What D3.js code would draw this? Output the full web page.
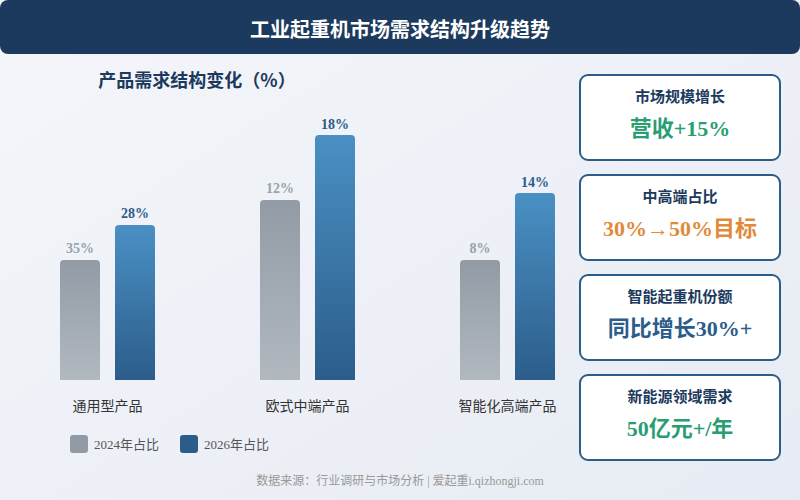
<!DOCTYPE html>
<html><head><meta charset="utf-8">
<script src="https://cdn.jsdelivr.net/npm/d3@7"></script>
<style>
html,body{margin:0;padding:0;width:800px;height:500px;overflow:hidden;}
svg{display:block;font-family:"Noto Sans CJK SC","Noto Sans",sans-serif;}
</style></head>
<body><svg id="c" width="800" height="500"></svg>
<script>
const title = "工业起重机市场需求结构升级趋势";
const subtitle = "产品需求结构变化（%）";
const categories = ["通用型产品", "欧式中端产品", "智能化高端产品"];
const seriesNames = ["2024年占比", "2026年占比"];
// labelled shares
const share2024 = [35, 12, 8];
const share2026 = [28, 18, 14];
// bar heights as drawn (relative index, 0-100)
const bar2024 = [49, 73.5, 49];
const bar2026 = [63.3, 100, 76.3];
const cardTitles = ["市场规模增长", "中高端占比", "智能起重机份额", "新能源领域需求"];
const cardValues = ["营收+15%", "30%→50%目标", "同比增长30%+", "50亿元+/年"];
const cardColors = ["#2a9d72", "#e08a3a", "#2c5d8a", "#2a9d72"];
const footer = "数据来源：行业调研与市场分析 | 爱起重i.qizhongji.com";

const svg = d3.select("#c");
const defs = svg.append("defs");
const bg = defs.append("linearGradient").attr("id","bg").attr("x1","0").attr("y1","0").attr("x2","1").attr("y2","1");
bg.append("stop").attr("offset","0").attr("stop-color","#f4f6fa");
bg.append("stop").attr("offset","1").attr("stop-color","#e7ebf3");
const gg = defs.append("linearGradient").attr("id","gGray").attr("x1","0").attr("y1","0").attr("x2","0").attr("y2","1");
gg.append("stop").attr("offset","0").attr("stop-color","#929ba5");
gg.append("stop").attr("offset","1").attr("stop-color","#b1b8c0");
const gb = defs.append("linearGradient").attr("id","gBlue").attr("x1","0").attr("y1","0").attr("x2","0").attr("y2","1");
gb.append("stop").attr("offset","0").attr("stop-color","#4a90c4");
gb.append("stop").attr("offset","1").attr("stop-color","#2c5d8a");

svg.append("rect").attr("width",800).attr("height",500).attr("fill","url(#bg)");
svg.append("rect").attr("x",0).attr("y",0).attr("width",800).attr("height",54).attr("rx",8).attr("fill","#1c3a5d");
svg.append("text").attr("x",400).attr("y",28).attr("text-anchor","middle").attr("dominant-baseline","central")
  .attr("fill","#fff").attr("font-size",20).attr("font-weight","bold").text(title);

svg.append("text").attr("x",197).attr("y",79).attr("text-anchor","middle").attr("dominant-baseline","central")
  .attr("fill","#1c3a5d").attr("font-size",18).attr("font-weight","bold").text(subtitle);

const x0 = d3.scaleBand().domain(categories).range([50, 650]).paddingInner(0).paddingOuter(0);
const x1 = d3.scaleOrdinal().domain([0,1]).range([10, 65]);
const y = d3.scaleLinear().domain([0,100]).range([380,135]);
const bw = 40;

function topRounded(x, yTop, w, h, r){
  return `M${x},${yTop+h}V${yTop+r}Q${x},${yTop} ${x+r},${yTop}H${x+w-r}Q${x+w},${yTop} ${x+w},${yTop+r}V${yTop+h}Z`;
}
const rows = categories.map((c,i)=>({c, vals:[{s:0,h:bar2024[i],l:share2024[i]},{s:1,h:bar2026[i],l:share2026[i]}]}));
const grp = svg.append("g").selectAll("g").data(rows).join("g").attr("transform",d=>`translate(${x0(d.c)},0)`);
grp.selectAll("path").data(d=>d.vals).join("path")
  .attr("d",d=>{const yt=y(d.h);return topRounded(x1(d.s), yt, bw, 380-yt, 4);})
  .attr("fill",d=>d.s===0?"url(#gGray)":"url(#gBlue)");
grp.selectAll("text.v").data(d=>d.vals).join("text").attr("class","v")
  .attr("x",d=>x1(d.s)+bw/2).attr("y",d=>y(d.h)-11)
  .attr("text-anchor","middle").attr("dominant-baseline","central")
  .attr("font-family","'Liberation Serif',serif").attr("font-weight","bold").attr("font-size",14)
  .attr("fill",d=>d.s===0?"#9aa2ac":"#2c5d8a").text(d=>d.l+"%");
grp.append("text").attr("x",x1(0)+ (x1(1)+bw-x1(0))/2).attr("y",405)
  .attr("text-anchor","middle").attr("dominant-baseline","central")
  .attr("font-size",14).attr("fill","#333").text(d=>d.c);

// legend
const leg = svg.append("g").selectAll("g").data(seriesNames).join("g")
  .attr("transform",(d,i)=>`translate(${70+i*110},435)`);
leg.append("rect").attr("width",18).attr("height",18).attr("rx",3).attr("fill",(d,i)=>i===0?"#929ba5":"#2c5d8a");
leg.append("text").attr("x",24).attr("y",9.5).attr("dominant-baseline","central").attr("font-size",13)
  .attr("font-family","'Liberation Serif','Noto Sans CJK SC',serif").attr("fill","#555").text(d=>d);

// cards
const cards = svg.append("g").selectAll("g").data(cardTitles).join("g")
  .attr("transform",(d,i)=>`translate(580,${75+i*100})`);
cards.append("rect").attr("width",200).attr("height",85).attr("rx",8).attr("fill","#fff")
  .attr("stroke","#2c5d8a").attr("stroke-width",2);
cards.append("text").attr("x",100).attr("y",20).attr("text-anchor","middle").attr("dominant-baseline","central")
  .attr("font-size",15).attr("font-weight","bold").attr("fill","#1c3a5d").text(d=>d);
cards.append("text").attr("x",100).attr("y",53).attr("text-anchor","middle").attr("dominant-baseline","central")
  .attr("font-family","'Liberation Serif','Noto Sans CJK SC',serif")
  .attr("font-size",22).attr("font-weight","bold").attr("fill",(d,i)=>cardColors[i]).text((d,i)=>cardValues[i]);

svg.append("text").attr("x",400).attr("y",481).attr("text-anchor","middle").attr("dominant-baseline","central")
  .attr("font-family","'Liberation Serif','Noto Sans CJK SC',serif")
  .attr("font-size",12).attr("fill","#999").text(footer);
</script></body></html>
